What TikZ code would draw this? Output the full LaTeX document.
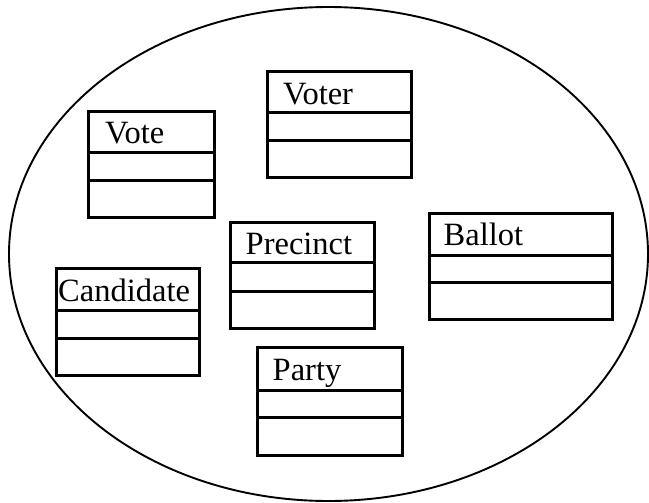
\documentclass[tikz,border=0pt]{standalone}
\usepackage{fontspec}
\setmainfont{Liberation Serif}
\usetikzlibrary{positioning}

\tikzset{
  classbox/.style={line width=3pt},
  classname/.style={anchor=base west, inner sep=0pt, font=\fontsize{32.5}{32.5}\selectfont},
}

\begin{document}
\begin{tikzpicture}[x=1pt, y=-1pt]

	\useasboundingbox (0,0) rectangle (649,503);
	\draw[line width=1.9pt] (328.5,254) ellipse [x radius=319.5, y radius=247];

	% Vote
	\draw[classbox] (88.5,111.5) rectangle (214,217.5);
	\draw[classbox] (88.5,152.5) -- (214,152.5);
	\draw[classbox] (88.5,180.5) -- (214,180.5);
	\node[classname] (vote) at (105,143.5) {Vote};

	% Voter
	\draw[classbox] (267.5,71.5) rectangle (411.5,177.5);
	\draw[classbox] (267.5,112.5) -- (411.5,112.5);
	\draw[classbox] (267.5,140.5) -- (411.5,140.5);
	\node[classname] (voter) at (283,105) {Voter};

	% Candidate
	\draw[classbox] (56,268.5) rectangle (199.5,375);
	\draw[classbox] (56,310.5) -- (199.5,310.5);
	\draw[classbox] (56,338.5) -- (199.5,338.5);
	\node[classname] (candidate) at (58,301.5) {Candidate};

	% Precinct
	\draw[classbox] (230,222.5) rectangle (374,328);
	\draw[classbox] (230,262.5) -- (374,262.5);
	\draw[classbox] (230,291) -- (374,291);
	\node[classname] (precinct) at (245.5,254.5) {Precinct};

	% Ballot
	\draw[classbox] (429,213.5) rectangle (612.5,319.5);
	\draw[classbox] (429,255.5) -- (612.5,255.5);
	\draw[classbox] (429,282.5) -- (612.5,282.5);
	\node[classname] (ballot) at (443.5,245.5) {Ballot};

	% Party
	\draw[classbox] (257.5,347.5) rectangle (402,455.5);
	\draw[classbox] (257.5,390) -- (402,390);
	\draw[classbox] (257.5,417.5) -- (402,417.5);
	\node[classname] (party) at (272.5,380) {Party};

\end{tikzpicture}
\end{document}
